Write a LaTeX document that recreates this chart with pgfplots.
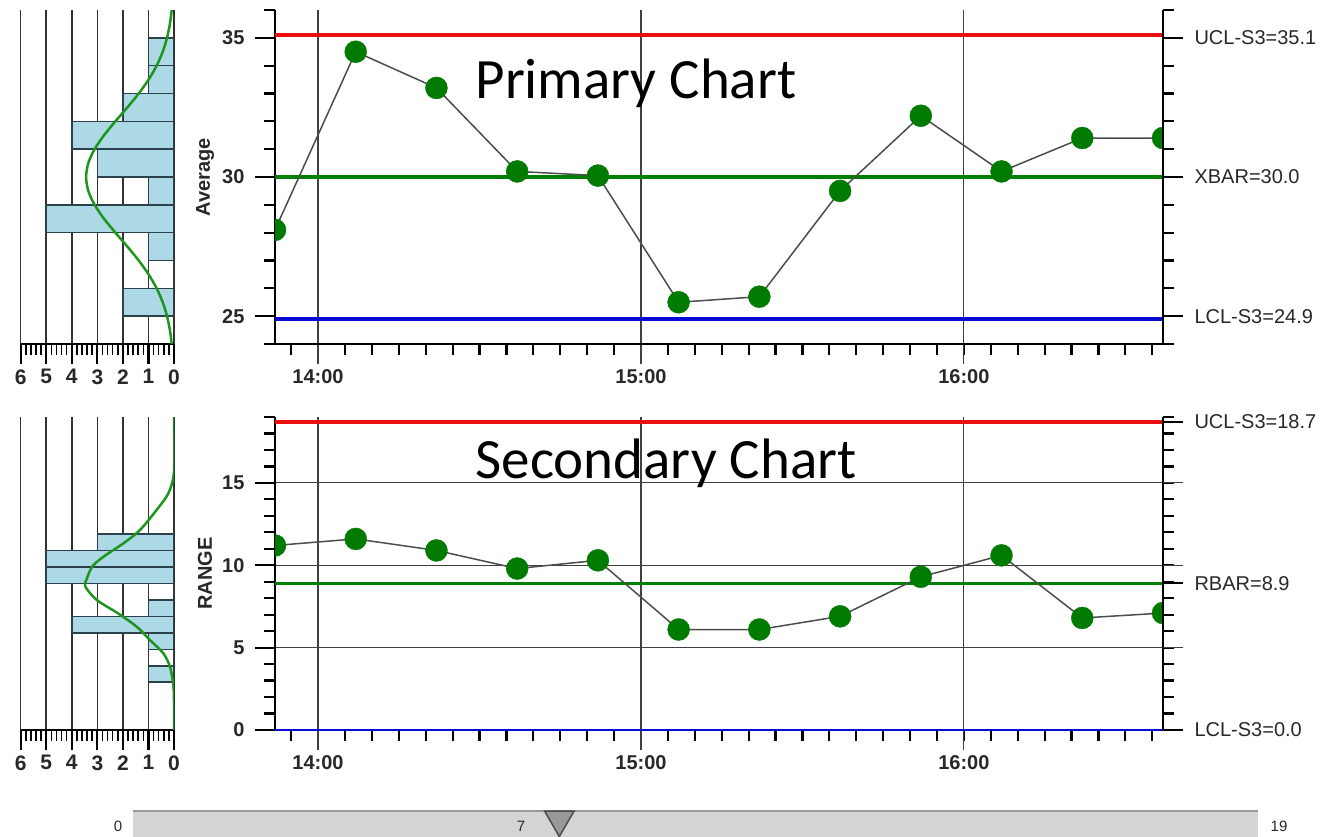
\documentclass[border=0pt]{standalone}
\usepackage{pgfplots}
\pgfplotsset{compat=1.18}
\usepackage{fontspec}
\setmainfont{Liberation Sans}
\newfontfamily\titlefont{Carlito}

\definecolor{uclred}{RGB}{235,15,15}
\definecolor{clgreen}{RGB}{0,128,0}
\definecolor{lclblue}{RGB}{10,10,215}
\definecolor{dotgreen}{RGB}{0,122,0}
\definecolor{histfill}{RGB}{173,216,230}
\definecolor{histedge}{RGB}{45,65,75}
\definecolor{curvegreen}{RGB}{30,150,30}
\definecolor{labelgray}{RGB}{40,40,40}

\pgfplotsset{
  base/.style={scale only axis, tick align=outside,
    major tick length=20pt, minor tick length=11pt,
    tick style={black, line width=2.2pt},
    axis line style={black, line width=2pt, -},
    major grid style={black!75, line width=1.2pt},
    tick label style={font=\fontsize{20}{22}\selectfont\bfseries, text=labelgray},
    /pgf/number format/assume math mode=true},
  timechart/.style={base, width=888pt, xmin=-8, xmax=157,
    axis x line*=bottom, axis y line*=left,
    xtick={0,60,120}, xticklabels={14:00,15:00,16:00},
    minor xtick={-5,0,...,155}, xmajorgrids,
    major x tick style={black!75, line width=1.2pt},
    yticklabel style={xshift=-7pt},
    xticklabel style={yshift=-2pt},
    clip marker paths=true,
    ylabel style={at={(axis description cs:-0.0788,0.5)}, anchor=center,
      font=\fontsize{20}{22}\selectfont\bfseries, text=labelgray}},
  rightscale/.style={base, width=888pt, xmin=-8, xmax=157,
    axis x line=none, axis y line*=right,
    tick label style={font=\fontsize{20}{22}\selectfont, text=labelgray},
    yticklabel style={xshift=8pt}},
  hist/.style={base, width=153.3pt, xmin=0, xmax=6, x dir=reverse,
    axis x line*=bottom, axis y line=none,
    xtick={0,...,6}, minor x tick num=4, xmajorgrids,
    minor tick style={line width=1.5pt},
    major grid style={black!80, line width=1.5pt},
    xticklabel style={yshift=-2pt},
    tick label style={font=\fontsize{21}{22}\selectfont\bfseries, text=labelgray}},
  ctrl/.style={line width=4.5pt},
  series/.style={black!70, line width=1.5pt, mark=*, mark size=11pt,
    mark options={fill=dotgreen, draw=dotgreen, line width=0.4pt}},
  bars/.style={xbar interval, fill=histfill, draw=histedge, line width=1.5pt},
  normal/.style={curvegreen, line width=2.5pt, smooth},
}

\begin{document}
\begin{tikzpicture}
\useasboundingbox (0,0) rectangle (1342pt,-837pt);

% histogram of the averages
\begin{axis}[hist, height=334pt, at={(20.7pt,-344pt)}, anchor=south west,
  ymin=24, ymax=36]
  \addplot[bars] coordinates {(2,25) (0,26) (1,27) (5,28) (1,29) (3,30)
    (4,31) (2,32) (1,33) (1,34) (0,35)};
  \addplot[normal] coordinates {(0.089,24) (0.160,24.5) (0.273,25) (0.441,25.5)
    (0.679,26) (0.993,26.5) (1.381,27) (1.825,27.5) (2.293,28) (2.738,28.5)
    (3.108,29) (3.354,29.5) (3.44,30) (3.354,30.5) (3.108,31) (2.738,31.5)
    (2.293,32) (1.825,32.5) (1.381,33) (0.993,33.5) (0.679,34) (0.441,34.5)
    (0.273,35) (0.160,35.5) (0.089,36)};
\end{axis}

% primary chart
\begin{axis}[timechart, height=334pt, at={(275pt,-344pt)}, anchor=south west,
  ymin=24, ymax=36, ytick={25,30,35}, minor ytick={24,...,36}, ylabel={Average}]
  \addplot[ctrl, uclred] coordinates {(-8,35.1) (157,35.1)};
  \addplot[ctrl, clgreen, line width=3.5pt] coordinates {(-8,30) (157,30)};
  \addplot[ctrl, lclblue] coordinates {(-8,24.9) (157,24.9)};
  \addplot[series] coordinates {(-8,28.1) (7,34.5) (22,33.2) (37,30.2) (52,30.05)
    (67,25.5) (82,25.7) (97,29.5) (112,32.2) (127,30.2) (142,31.4) (157,31.4)};
\end{axis}
\begin{axis}[rightscale, height=334pt, at={(275pt,-344pt)}, anchor=south west,
  ymin=24, ymax=36, ytick={25,30,35},
  yticklabels={LCL-S3=24.9,XBAR=30.0,UCL-S3=35.1}, minor ytick={24,...,36}]
  \addplot[draw=none] coordinates {(0,30)};
\end{axis}

% histogram of the ranges
\begin{axis}[hist, height=313pt, at={(20.7pt,-730pt)}, anchor=south west,
  ymin=0, ymax=19]
  \addplot[bars] coordinates {(1,2.9) (0,3.9) (1,4.9) (4,5.9) (1,6.9) (0,7.9)
    (5,8.9) (5,9.9) (3,10.9) (0,11.9)};
  \addplot[normal] coordinates {(0,0) (0,1.8) (0.03,2.8) (0.16,3.85) (0.42,4.66)
    (0.94,5.46) (1.46,6.27) (2.19,7.08) (3.02,7.89) (3.47,8.7) (3.43,9.11)
    (3.2,9.92) (2.76,10.52) (1.98,11.33) (1.33,12.14) (0.68,13.36) (0.22,14.37)
    (0,15.7) (0,19)};
\end{axis}

% secondary chart
\begin{axis}[timechart, height=313pt, at={(275pt,-730pt)}, anchor=south west,
  ymin=0, ymax=19, ytick={0,5,10,15}, minor ytick={0,...,19}, ymajorgrids,
  ylabel={RANGE}]
  \addplot[ctrl, uclred] coordinates {(-8,18.7) (157,18.7)};
  \addplot[ctrl, clgreen, line width=3.5pt] coordinates {(-8,8.9) (157,8.9)};
  \addplot[lclblue, line width=2.5pt] coordinates {(-8,0) (157,0)};
  \addplot[series] coordinates {(-8,11.2) (7,11.6) (22,10.9) (37,9.8) (52,10.3)
    (67,6.1) (82,6.1) (97,6.9) (112,9.3) (127,10.6) (142,6.8) (157,7.1)};
\end{axis}
\begin{axis}[rightscale, height=313pt, at={(275pt,-730pt)}, anchor=south west,
  ymin=0, ymax=19, ytick={0,8.9,18.7},
  yticklabels={LCL-S3=0.0,RBAR=8.9,UCL-S3=18.7}, minor ytick={0,...,19},
  extra y ticks={5,10,15}, extra y tick labels={},
  extra y tick style={tick style={black!75, line width=1.2pt}}]
  \addplot[draw=none] coordinates {(0,9)};
\end{axis}

% slider
\begin{axis}[scale only axis, width=1125pt, height=26pt, at={(133pt,-837pt)},
  anchor=south west, xmin=0, xmax=19, ymin=0, ymax=1, axis lines=none, clip=false]
  \addplot[fill=black!17, draw=none] coordinates {(0,0) (19,0) (19,1) (0,1)} --cycle;
  \addplot[black!40, line width=2pt] coordinates {(0,1) (19,1)};
  \addplot[only marks, mark=triangle*, mark size=17pt,
    mark options={rotate=180, fill=black!40, draw=black!70, line width=1.5pt}]
    coordinates {(7.2,0.67)};
\end{axis}

\node[anchor=base west, font=\titlefont\fontsize{57}{60}\selectfont]
  at (472pt,-99pt) {Primary Chart};
\node[anchor=base west, font=\titlefont\fontsize{57}{60}\selectfont]
  at (472pt,-478pt) {Secondary Chart};
\node[font=\fontsize{15}{17}\selectfont, text=labelgray] at (118pt,-826pt) {0};
\node[font=\fontsize{15}{17}\selectfont, text=labelgray] at (521pt,-826pt) {7};
\node[font=\fontsize{15}{17}\selectfont, text=labelgray] at (1279pt,-826pt) {19};
\end{tikzpicture}
\end{document}
